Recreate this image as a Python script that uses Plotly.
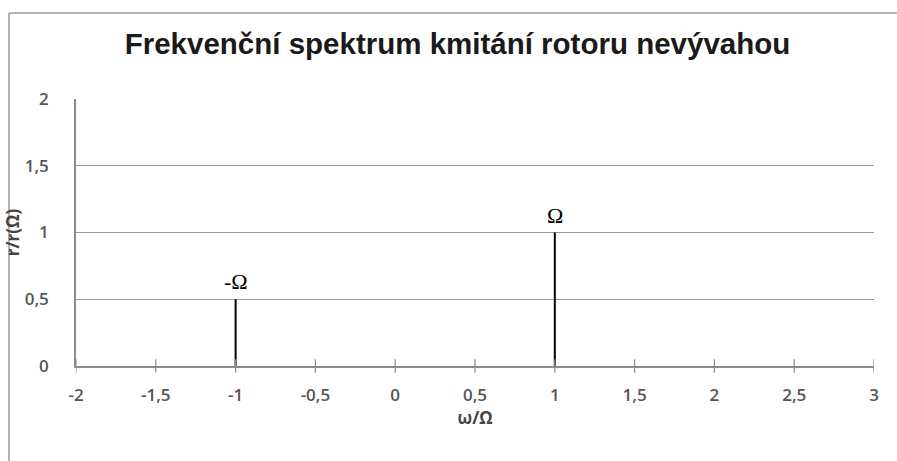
import plotly.graph_objects as go

# Spectrum lines: frequency ratio and relative amplitude
freqs = [-1, 1]
amps = [0.5, 1.0]
peak_labels = ["-Ω", "Ω"]

x_ticks = [-2, -1.5, -1, -0.5, 0, 0.5, 1, 1.5, 2, 2.5, 3]
x_tick_text = ["-2", "-1,5", "-1", "-0,5", "0", "0,5", "1", "1,5", "2", "2,5", "3"]
y_ticks = [0, 0.5, 1, 1.5, 2]
y_tick_text = ["0", "0,5", "1", "1,5", "2"]

title_text = "Frekvenční spektrum kmitání rotoru nevývahou"
x_title = "ω/Ω"
y_title = "r/r(Ω)"

# build stem segments from the data
xs, ys = [], []
for f, a in zip(freqs, amps):
    xs += [f, f, None]
    ys += [0, a, None]

fig = go.Figure()
fig.add_trace(go.Scatter(
    x=xs, y=ys, mode="lines",
    line=dict(color="#000000", width=2),
    hoverinfo="skip", showlegend=False,
))

for f, a, t in zip(freqs, amps, peak_labels):
    fig.add_annotation(
        x=f, y=a, text=t, showarrow=False,
        yanchor="bottom", yshift=3,
        font=dict(family="Liberation Serif", size=22, color="#000000"),
    )

# tick marks crossing the x axis
shapes = []
for t in x_ticks:
    shapes.append(dict(
        type="line", xref="x", yref="paper",
        x0=t, x1=t, y0=-0.025, y1=0.025,
        line=dict(color="#8c8c8c", width=1.2), layer="above",
    ))
# outer chart frame (left and top edges)
frame = dict(color="#9a9a9a", width=1.5)
shapes.append(dict(type="line", xref="paper", yref="paper",
                   x0=-0.084, x1=-0.084, y0=-0.6, y1=1.322, line=frame, layer="below"))
shapes.append(dict(type="line", xref="paper", yref="paper",
                   x0=-0.084, x1=1.1, y0=1.322, y1=1.322, line=frame, layer="below"))

tick_font = dict(family="Open Sans", size=17, color="#555555", weight=600)
axis_title_font = dict(family="Open Sans", size=17, color="#444444", weight=700)

fig.update_layout(
    width=897, height=461,
    margin=dict(l=76, r=23, t=99, b=95),
    paper_bgcolor="#ffffff", plot_bgcolor="#ffffff",
    shapes=shapes,
    title=dict(
        text=title_text, x=0.51, xanchor="center", y=0.905, yanchor="middle",
        font=dict(family="Liberation Sans", size=29.5, color="#1a1a1a", weight="bold"),
    ),
    xaxis=dict(
        range=[-2, 3], tickvals=x_ticks, ticktext=x_tick_text,
        showgrid=False, zeroline=False,
        showline=True, linecolor="#8c8c8c", linewidth=1.5,
        ticks="", ticklabelstandoff=13, tickfont=tick_font,
        title=dict(text=x_title, standoff=6, font=axis_title_font),
        fixedrange=True,
    ),
    yaxis=dict(
        range=[0, 2], tickvals=y_ticks, ticktext=y_tick_text,
        showgrid=True, gridcolor="#9a9a9a", gridwidth=1.2,
        zeroline=False,
        showline=True, linecolor="#8c8c8c", linewidth=1.5,
        ticks="", ticklabelstandoff=22, tickfont=tick_font,
        title=dict(text=y_title, standoff=1, font=axis_title_font),
        fixedrange=True,
    ),
)

fig.write_html("out.html", config={"displayModeBar": False})
